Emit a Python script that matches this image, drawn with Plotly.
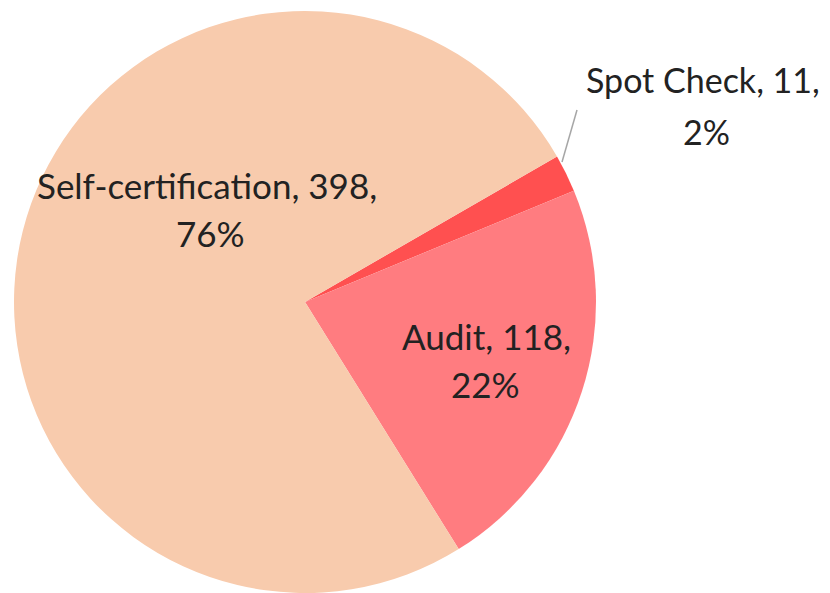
import plotly.graph_objects as go

# Data
categories = ["Spot Check", "Audit", "Self-certification"]
values = [11, 118, 398]
percent_labels = ["2%", "22%", "76%"]
colors = ["#FF5050", "#FF7C80", "#F8CBAD"]

W, H = 830, 593
OFF = 8  # page body margin

def px(x):
    return (x - OFF) / W

def py(y):
    return 1 - (y - OFF) / H

fig = go.Figure(
    go.Pie(
        labels=categories,
        values=values,
        sort=False,
        direction="clockwise",
        rotation=60,
        marker=dict(colors=colors, line=dict(width=0)),
        textinfo="none",
        hoverinfo="label+value+percent",
        domain=dict(x=[px(14), px(596)], y=[py(593), py(11)]),
        showlegend=False,
    )
)

font = dict(family="Lato, Open Sans, sans-serif", size=35, color="#222222")
small_font = dict(family="Lato, Open Sans, sans-serif", size=34, color="#222222")

# label lines: (text, center x px, center y px, font)
label_lines = [
    (f"{categories[2]}, {values[2]},", 207, 185, font),
    (percent_labels[2], 210, 233, font),
    (f"{categories[1]}, {values[1]},", 486, 336, font),
    (percent_labels[1], 485, 384, font),
    (f"{categories[0]}, {values[0]},", 703, 80, small_font),
    (percent_labels[0], 706, 131, small_font),
]

for text, x, y, f in label_lines:
    fig.add_annotation(
        text=text, x=px(x), y=py(y), xref="paper", yref="paper",
        xanchor="center", yanchor="middle", showarrow=False, font=f,
    )

# leader line for Spot Check
fig.add_shape(
    type="line", xref="paper", yref="paper",
    x0=px(577), y0=py(110), x1=px(562), y1=py(162),
    line=dict(color="#A6A6A6", width=1.5),
)

fig.update_layout(
    width=W, height=H,
    margin=dict(l=0, r=0, t=0, b=0),
    paper_bgcolor="white",
    plot_bgcolor="white",
)

fig.write_html("out.html")
